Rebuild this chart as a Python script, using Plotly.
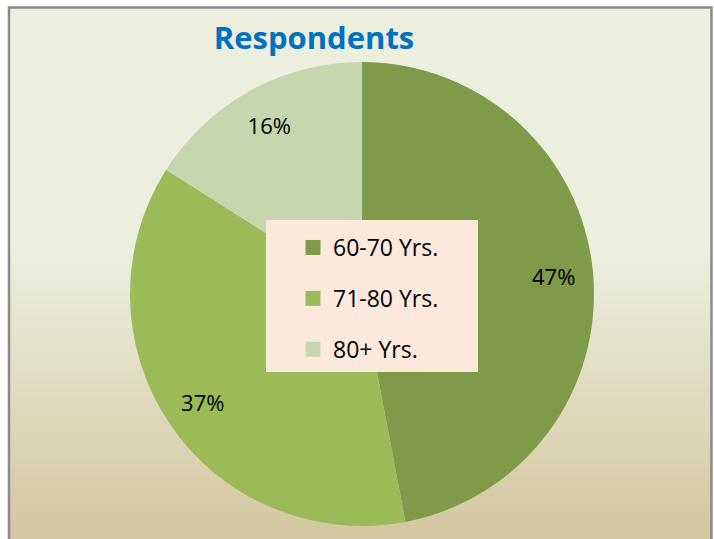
import plotly.graph_objects as go

categories = ["60-70 Yrs.", "71-80 Yrs.", "80+ Yrs."]
values = [47, 37, 16]
colors = ["#7f9a48", "#9bbb59", "#c6d6ae"]
title_text = "Respondents"

W, H = 714, 539

fig = go.Figure()

# main pie
dom_x = [130 / W, 594 / W]
dom_y = [1 - 526 / H, 1 - 62 / H]
fig.add_trace(go.Pie(
    labels=categories, values=values, sort=False, direction="clockwise", rotation=0,
    marker=dict(colors=colors, line=dict(width=0)),
    textinfo="none", hoverinfo="label+percent", showlegend=False,
    domain=dict(x=dom_x, y=dom_y),
))
# label ring (transparent) so percentages sit near outer part of slices
fig.add_trace(go.Pie(
    labels=categories, values=values, sort=False, direction="clockwise", rotation=0,
    hole=0.66,
    marker=dict(colors=["rgba(0,0,0,0)"] * len(values), line=dict(width=0)),
    textinfo="percent", textposition="inside", insidetextorientation="horizontal",
    textfont=dict(family="Open Sans", size=22, color="black"),
    hoverinfo="skip", showlegend=False,
    domain=dict(x=dom_x, y=dom_y),
))

# legend entries
for i, (c, col) in enumerate(zip(categories, colors)):
    fig.add_trace(go.Scatter(
        x=[None], y=[None], mode="markers", name=c, legendgroup=c,
        marker=dict(symbol="square", size=15, color=col),
        showlegend=True,
    ))

# background gradient stripes
def lerp(a, b, t):
    return tuple(round(a[k] + (b[k] - a[k]) * t) for k in range(3))

top_c = (236, 239, 222)
bot_c = (211, 198, 160)
shapes = []
n = 60
y0px, y1px = 7, 539
for i in range(n):
    ya = y0px + (y1px - y0px) * i / n
    yb = y0px + (y1px - y0px) * (i + 1) / n
    ym = (ya + yb) / 2
    t = 0 if ym < 250 else (ym - 250) / (539 - 250)
    r, g, b = lerp(top_c, bot_c, t)
    shapes.append(dict(type="rect", xref="paper", yref="paper", layer="below",
                       x0=9 / W, x1=711 / W, y0=1 - yb / H - 0.002, y1=1 - ya / H,
                       fillcolor=f"rgb({r},{g},{b})", line=dict(width=0)))
# border
shapes.append(dict(type="rect", xref="paper", yref="paper", layer="above",
                   x0=9 / W, x1=711.5 / W, y0=-0.05, y1=1 - 7.5 / H,
                   fillcolor="rgba(0,0,0,0)", line=dict(color="#8a8a8a", width=2.5)))
# legend box
shapes.append(dict(type="rect", xref="paper", yref="paper", layer="above",
                   x0=266 / W, x1=478 / W, y0=1 - 372 / H, y1=1 - 220 / H,
                   fillcolor="#fde9db", line=dict(width=0)))

fig.update_layout(
    width=W, height=H,
    margin=dict(l=0, r=0, t=0, b=0),
    paper_bgcolor="white", plot_bgcolor="rgba(0,0,0,0)",
    xaxis=dict(visible=False), yaxis=dict(visible=False),
    shapes=shapes,
    title=dict(text=title_text, x=314 / W, xanchor="center", y=1 - 38 / H, yanchor="middle",
               font=dict(family="Open Sans", size=31, color="#0070c0", weight="bold")),
    legend=dict(x=293 / W, xanchor="left", y=1 - 226 / H, yanchor="top",
                bgcolor="rgba(0,0,0,0)", borderwidth=0, tracegroupgap=18,
                traceorder="grouped",
                font=dict(family="Open Sans", size=23, color="black")),
    showlegend=True,
)

fig.write_html("out.html", config={"displayModeBar": False},
               post_script="document.body.style.margin='0';document.body.style.overflow='hidden';")
